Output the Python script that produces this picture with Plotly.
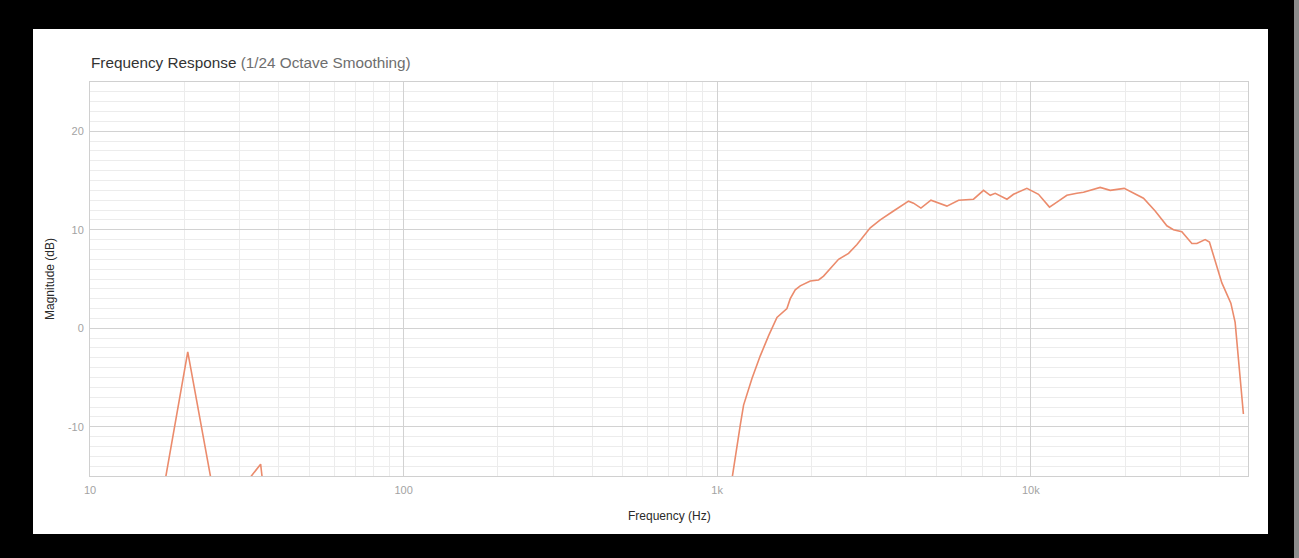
import numpy as np
import plotly.graph_objects as go

# Measured frequency response, 1/24 octave smoothing
freq_hz = [
    14.0, 17.0, 20.5, 24.5, 27.0, 30.2, 35.0, 37.5, 50, 100, 300, 700, 1000,
    1100, 1185, 1214, 1291, 1372, 1459, 1551, 1669, 1710, 1774, 1840, 1981,
    2106, 2184, 2438, 2624, 2791, 3077, 3311, 3650, 4076, 4228, 4464, 4804,
    5402, 5886, 6569, 7070, 7427, 7702, 8395, 8809, 9719, 10584, 11472,
    12116, 13035, 14027, 14727, 16648, 17918, 19859, 22875, 24932, 27164,
    28510, 30323, 32635, 33857, 35975, 37129, 40675, 43451, 44843, 47650,
]
magnitude_db = [
    -40.0, -17.1, -2.4, -15.9, -35.0, -16.4, -13.8, -22.0, -38.0, -42.0, -40.0, -36.0, -28.0,
    -16.5, -9.8, -7.8, -5.1, -2.8, -0.75, 1.1, 2.0, 3.0, 3.9, 4.3, 4.8,
    4.9, 5.3, 7.0, 7.6, 8.5, 10.2, 11.0, 11.9, 12.9, 12.7, 12.2, 13.0,
    12.4, 13.0, 13.1, 14.0, 13.5, 13.7, 13.1, 13.6, 14.2, 13.6, 12.3,
    12.8, 13.5, 13.7, 13.8, 14.3, 14.0, 14.2, 13.2, 11.9, 10.4,
    10.0, 9.8, 8.6, 8.6, 9.0, 8.75, 4.6, 2.55, 0.6, -8.7,
]

x_tick_vals = [10, 100, 1000, 10000]
x_tick_text = ["10", "100", "1k", "10k"]
y_tick_vals = [-10, 0, 10, 20]
y_tick_text = ["-10", "0", "10", "20"]

W, H = 1299, 558
ML, MR, MT, MB = 90, 51, 82, 82
PW, PH = W - ML - MR, H - MT - MB


def px_x(px):
    return (px - ML) / PW


def px_y(py):
    return (H - MB - py) / PH


x_minor = [m * 10 ** d for d in range(1, 5) for m in range(2, 10)]

fig = go.Figure()
fig.add_trace(go.Scatter(
    x=freq_hz, y=magnitude_db, mode="lines",
    line=dict(color="#eb8b6c", width=1.6),
    hoverinfo="skip", showlegend=False,
))

font_family = "Liberation Sans, Arial, Helvetica, sans-serif"

fig.update_layout(
    width=W, height=H,
    margin=dict(l=ML, r=MR, t=MT, b=MB, pad=0),
    paper_bgcolor="#000000",
    plot_bgcolor="#ffffff",
    font=dict(family=font_family, size=11, color="#999999"),
    xaxis=dict(
        type="log",
        range=[1, 4.6927],
        tickmode="array", tickvals=x_tick_vals, ticktext=x_tick_text,
        showgrid=True, gridcolor="#d2d2d2", gridwidth=1,
        minor=dict(tickmode="array", tickvals=x_minor, showgrid=True,
                   gridcolor="#ececec", gridwidth=1, ticks=""),
        showline=True, linecolor="#d0d0d0", linewidth=1, mirror=True,
        ticks="", ticklabelstandoff=4,
        tickfont=dict(size=11, color="#a3a3a3"),
        zeroline=False,
    ),
    yaxis=dict(
        range=[-15, 25],
        tickmode="array", tickvals=y_tick_vals, ticktext=y_tick_text,
        showgrid=True, gridcolor="#d2d2d2", gridwidth=1,
        minor=dict(dtick=1, showgrid=True, gridcolor="#ececec",
                   gridwidth=1, ticks=""),
        showline=True, linecolor="#d0d0d0", linewidth=1, mirror=True,
        ticks="", ticklabelstandoff=3,
        tickfont=dict(size=11, color="#a3a3a3"),
        zeroline=False,
    ),
    shapes=[
        # white card behind the chart
        dict(type="rect", xref="paper", yref="paper", layer="below",
             x0=px_x(33), x1=px_x(1268), y0=px_y(534), y1=px_y(29),
             fillcolor="#ffffff", line=dict(width=0)),
        # grey strip on the right edge
        dict(type="rect", xref="paper", yref="paper", layer="below",
             x0=px_x(1294), x1=px_x(1300), y0=px_y(560), y1=px_y(-2),
             fillcolor="#8c8c8c", line=dict(width=0)),
    ],
    annotations=[
        dict(xref="paper", yref="paper", x=px_x(89), y=px_y(63),
             xanchor="left", yanchor="middle", showarrow=False,
             text="<span style='color:#333333'>Frequency Response</span>"
                  " <span style='color:#6e6e6e'>(1/24 Octave Smoothing)</span>",
             font=dict(size=15.3, family=font_family)),
        dict(xref="paper", yref="paper", x=0.5, y=px_y(516),
             xanchor="center", yanchor="middle", showarrow=False,
             text="Frequency (Hz)",
             font=dict(size=12, color="#2a2a2a", family=font_family)),
        dict(xref="paper", yref="paper", x=px_x(50), y=0.5,
             xanchor="center", yanchor="middle", showarrow=False,
             text="Magnitude (dB)", textangle=-90,
             font=dict(size=12, color="#2a2a2a", family=font_family)),
    ],
)

fig.write_html("out.html")
